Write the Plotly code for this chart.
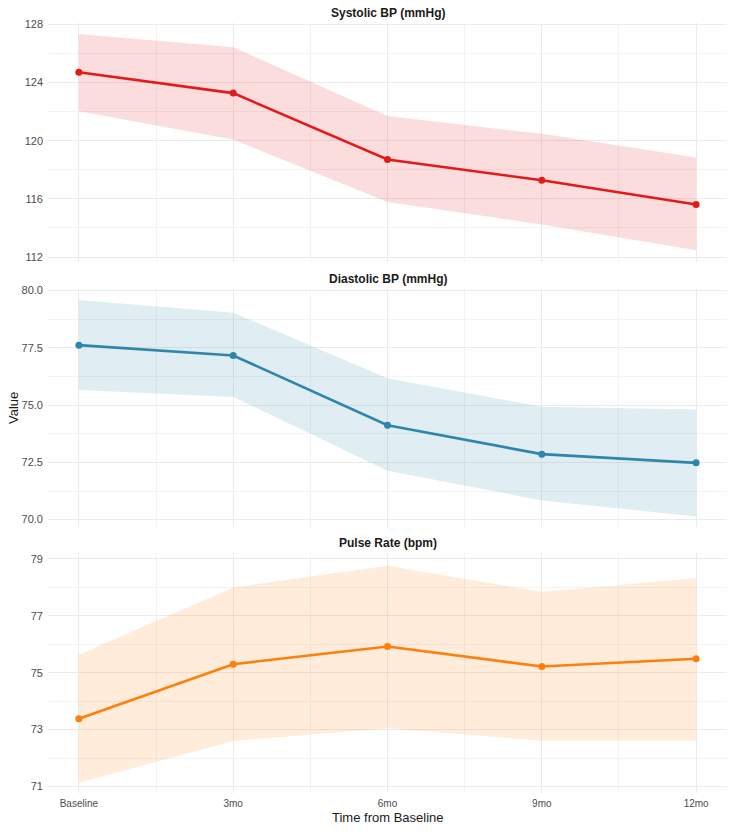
import plotly.graph_objects as go
from plotly.subplots import make_subplots

time_labels = ["Baseline", "3mo", "6mo", "9mo", "12mo"]
time_pos = [0, 1, 2, 3, 4]

sys_mean = [124.70, 123.27, 118.71, 117.28, 115.61]
sys_upper = [127.33, 126.42, 121.69, 120.47, 118.85]
sys_lower = [122.03, 120.08, 115.79, 114.24, 112.47]

dia_mean = [77.62, 77.17, 74.12, 72.86, 72.48]
dia_upper = [79.59, 79.04, 76.17, 74.93, 74.81]
dia_lower = [75.66, 75.36, 72.13, 70.84, 70.14]

pul_mean = [73.38, 75.30, 75.92, 75.22, 75.49]
pul_upper = [75.63, 78.00, 78.76, 77.84, 78.33]
pul_lower = [71.13, 72.60, 73.05, 72.61, 72.61]

panel_titles = ["Systolic BP (mmHg)", "Diastolic BP (mmHg)", "Pulse Rate (bpm)"]
y_ranges = [[111.66, 128.09], [69.68, 80.07], [70.77, 79.21]]
y_ticks = [[112, 116, 120, 124, 128], [70.0, 72.5, 75.0, 77.5, 80.0], [71, 73, 75, 77, 79]]
y_ticktext = [["112", "116", "120", "124", "128"],
              ["70.0", "72.5", "75.0", "77.5", "80.0"],
              ["71", "73", "75", "77", "79"]]
line_colors = ["#E31A1C", "#2E86AB", "#FF7F0E"]
fill_colors = ["rgba(227,26,28,0.15)", "rgba(46,134,171,0.15)", "rgba(255,127,14,0.15)"]

series = [(sys_mean, sys_upper, sys_lower),
          (dia_mean, dia_upper, dia_lower),
          (pul_mean, pul_upper, pul_lower)]

fig = make_subplots(rows=3, cols=1, shared_xaxes=False, vertical_spacing=0.0)

domains = [[0.6896, 1.0], [0.3455, 0.6545], [0.0, 0.3117]]
font_fam = "Liberation Sans, Arial, sans-serif"

for i, (m, u, l) in enumerate(series):
    r = i + 1
    fig.add_trace(go.Scatter(x=time_pos, y=u, mode="lines", line=dict(width=0),
                             hoverinfo="skip", showlegend=False), row=r, col=1)
    fig.add_trace(go.Scatter(x=time_pos, y=l, mode="lines", line=dict(width=0),
                             fill="tonexty", fillcolor=fill_colors[i],
                             hoverinfo="skip", showlegend=False), row=r, col=1)
    fig.add_trace(go.Scatter(x=time_pos, y=m, mode="lines+markers",
                             line=dict(color=line_colors[i], width=2.6),
                             marker=dict(color=line_colors[i], size=7),
                             showlegend=False), row=r, col=1)
    fig.update_yaxes(row=r, col=1, domain=domains[i], range=y_ranges[i],
                     tickvals=y_ticks[i], ticktext=y_ticktext[i],
                     showgrid=True, gridcolor="#EBEBEB", gridwidth=1.1,
                     minor=dict(showgrid=True, gridcolor="#F3F3F3", gridwidth=0.8,
                                tickvals=[(y_ticks[i][k] + y_ticks[i][k + 1]) / 2 for k in range(4)]),
                     zeroline=False, showline=False, ticks="", ticklabelstandoff=4,
                     tickfont=dict(family=font_fam, size=11, color="#4D4D4D"))
    fig.update_xaxes(row=r, col=1, range=[-0.2, 4.2], tickvals=time_pos,
                     ticktext=time_labels if r == 3 else [""] * 5,
                     showticklabels=(r == 3),
                     showgrid=True, gridcolor="#EBEBEB", gridwidth=1.1,
                     minor=dict(showgrid=True, gridcolor="#F3F3F3", gridwidth=0.8,
                                tickvals=[0.5, 1.5, 2.5, 3.5]),
                     zeroline=False, showline=False, ticks="", ticklabelstandoff=3,
                     tickfont=dict(family=font_fam, size=10, color="#4D4D4D"))

annotations = []
for i, t in enumerate(panel_titles):
    yref = "y domain" if i == 0 else f"y{i + 1} domain"
    annotations.append(dict(text=f"<b>{t}</b>", xref="paper", yref=yref, x=0.5, y=1.0,
                            xanchor="center", yanchor="bottom", yshift=1, showarrow=False,
                            font=dict(family=font_fam, size=12, color="#1A1A1A")))
annotations.append(dict(text="Value", xref="paper", yref="paper", x=-0.0515, y=0.5,
                        xanchor="center", yanchor="middle", textangle=-90, showarrow=False,
                        font=dict(family=font_fam, size=13, color="#1A1A1A")))
annotations.append(dict(text="Time from Baseline", xref="paper", yref="paper", x=0.5, y=0,
                        xanchor="center", yanchor="top", yshift=-15, showarrow=False,
                        font=dict(family=font_fam, size=13, color="#1A1A1A")))

fig.update_layout(width=750, height=835, margin=dict(l=48, r=23, t=23, b=42),
                  plot_bgcolor="white", paper_bgcolor="white", annotations=annotations,
                  font=dict(family=font_fam))

fig.write_html("out.html")
